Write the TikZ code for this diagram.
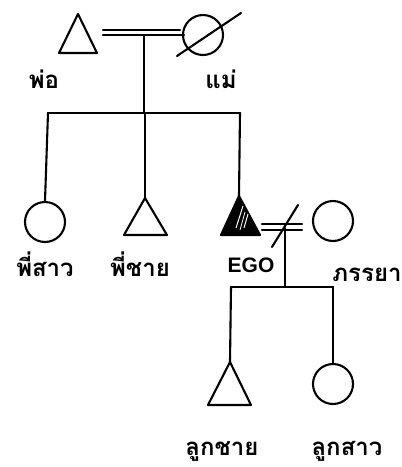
\documentclass[tikz,border=0pt]{standalone}
\usepackage{fontspec}
\newfontfamily\thaifont[Script=Thai]{Loma}
\setsansfont{Liberation Sans}
\begin{document}
\begin{tikzpicture}[x=1pt,y=-1pt,
  ln/.style={line width=2.1pt,line cap=round},
  circ/.style={circle,draw,line width=2.1pt,minimum size=40pt,inner sep=0pt},
  lbl/.style={font=\thaifont\bfseries\fontsize{24}{24}\selectfont,inner sep=0pt,anchor=base}]
\useasboundingbox (0,0) rectangle (402,467);
% father
\coordinate (fa) at (78,14);
\draw[ln,line join=round] (fa) -- (97,53) -- (59,53) -- cycle;
% mother
\node[circ] (mo) at (203,35) {};
\coordinate (ms1) at (177,56);
\coordinate (ms2) at (241,13);
\draw[ln] (ms1) -- (ms2);
% marriage lines
\coordinate (m1a) at (103,30); \coordinate (m1b) at (180,30);
\coordinate (m2a) at (103,35); \coordinate (m2b) at (184,35);
\draw[ln] (m1a) -- (m1b);
\draw[ln] (m2a) -- (m2b);
\coordinate (pm) at (144,35);
\coordinate (sb) at (144,113);
\draw[ln] (pm) -- (sb);
\coordinate (sbl) at (48,113); \coordinate (sbr) at (240,113);
\draw[ln] (sbl) -- (sbr);
% sister
\node[circ] (sis) at (45,222) {};
\draw[ln] (sbl) -- (sis.north);
% brother
\coordinate (br) at (145,198);
\draw[ln] (145,113) -- (br);
\draw[ln,line join=round] (br) -- (167,235) -- (124,235) -- cycle;
% ego
\coordinate (ego) at (239,196);
\draw[ln] (sbr) -- (ego);
\draw[ln,line join=round,fill=black] (ego) -- (260,235) -- (221,235) -- cycle;
\draw[white,line width=1pt] (236,228) -- (243,206);
\draw[white,line width=1pt] (244,228) -- (248,214);
\draw[white,line width=0.8pt] (240,230) -- (245,212);
% wife
\node[circ] (wife) at (333,221) {};
\coordinate (e1a) at (262,224); \coordinate (e1b) at (302,224);
\coordinate (e2a) at (262,230); \coordinate (e2b) at (302,230);
\draw[ln] (e1a) -- (e1b);
\draw[ln] (e2a) -- (e2b);
\coordinate (es1) at (272,247); \coordinate (es2) at (298,205);
\draw[ln] (es1) -- (es2);
\coordinate (em) at (285,228); \coordinate (cb) at (285,287);
\draw[ln] (em) -- (cb);
\coordinate (cbl) at (231,287); \coordinate (cbr) at (333,287);
\draw[ln] (cbl) -- (cbr);
% son
\coordinate (son) at (230,362);
\draw[ln] (cbl) -- (son);
\draw[ln,line join=round] (son) -- (251,405) -- (208,405) -- cycle;
% daughter
\node[circ] (dau) at (333,384) {};
\draw[ln] (cbr) -- (dau.north);
% labels
\node[lbl] (l1) at (44,88) {พ่อ};
\node[lbl] (l2) at (221,88) {แม่};
\node[lbl] (l3) at (45,276) {พี่สาว};
\node[lbl] (l4) at (140,276) {พี่ชาย};
\node[font=\sffamily\bfseries\fontsize{21}{21}\selectfont,inner sep=0pt,anchor=base] (l5) at (251,272) {EGO};
\node[lbl] (l6) at (367,281) {ภรรยา};
\node[lbl] (l7) at (222,455) {ลูกชาย};
\node[lbl] (l8) at (347,455) {ลูกสาว};
\end{tikzpicture}
\end{document}
